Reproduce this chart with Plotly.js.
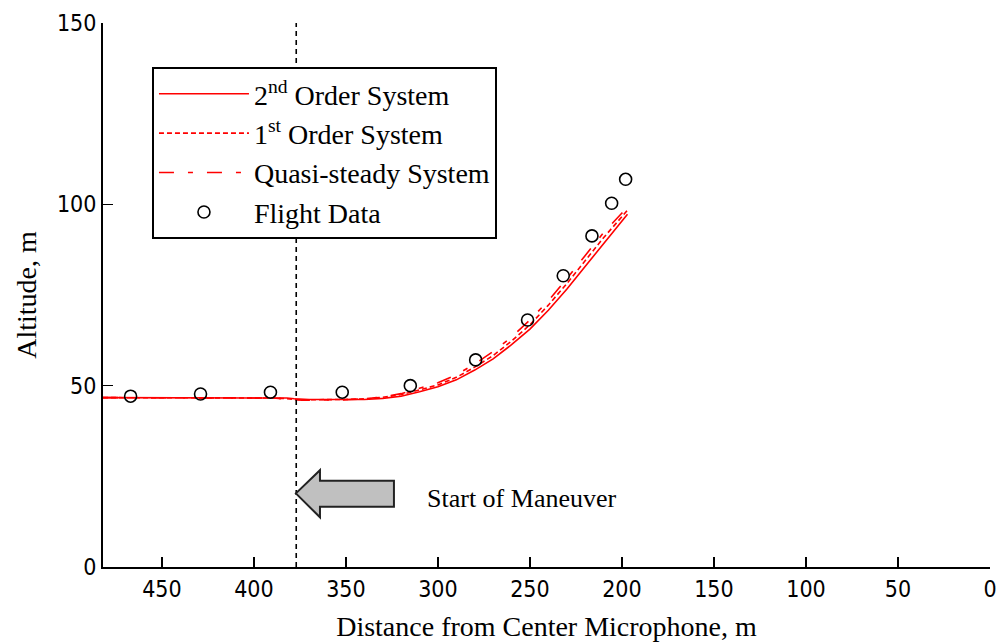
<!DOCTYPE html>
<html>
<head>
<meta charset="utf-8">
<script src="https://cdn.plot.ly/plotly-3.0.1.min.js"></script>
<style>
html,body{margin:0;padding:0;background:#fff;}
#chart{width:1000px;height:642px;}
</style>
</head>
<body>
<div id="chart"></div>
<script>
// Model curves: distance from center microphone (m) and altitude (m)
const modelDistance = [482, 460, 440, 420, 400, 390, 382, 378, 374, 370, 360, 350, 340, 330, 320, 310, 300, 290, 280, 270, 260, 250, 240, 230, 220, 210, 200, 197];
const secondOrder   = [46.7, 46.7, 46.7, 46.7, 46.7, 46.7, 46.6, 46.4, 46.3, 46.2, 46.2, 46.2, 46.2, 46.5, 47.1, 48.3, 49.7, 51.6, 54.3, 57.4, 61.3, 65.6, 70.8, 76.6, 82.9, 89.2, 95.3, 97.3];
const firstOrder    = [46.7, 46.7, 46.7, 46.7, 46.7, 46.6, 46.4, 46.2, 46.1, 46.1, 46.1, 46.2, 46.4, 46.8, 47.5, 48.8, 50.2, 52.3, 55.1, 58.3, 62.3, 66.8, 72.2, 78.1, 84.5, 90.8, 96.6, 98.4];
const quasiSteady   = [46.7, 46.7, 46.7, 46.7, 46.7, 46.6, 46.3, 46.1, 46.0, 46.0, 46.0, 46.1, 46.4, 46.9, 47.8, 49.2, 50.8, 53.0, 56.0, 59.4, 63.4, 68.1, 73.4, 79.5, 86.0, 92.2, 97.6, 99.0];

// Flight data
const flightDistance = [467, 429, 391, 352, 315, 279.5, 251.3, 231.9, 216.3, 205.6, 198];
const flightAltitude = [47.1, 47.7, 48.2, 48.2, 50.0, 57.1, 68.1, 80.3, 91.3, 100.3, 106.9];

// Axis ticks
const xTicks = [450, 400, 350, 300, 250, 200, 150, 100, 50, 0];
const yTicks = [0, 50, 100, 150];

// Maneuver marker
const maneuverStart = 377;
const maneuverLabel = "Start of Maneuver";
const arrowTip = [377.2, 20.3];
const arrowHeadX = 364.1, arrowHeadTop = 26.7, arrowHeadBottom = 13.7;
const arrowTailX = 323.9, arrowBodyTop = 23.8, arrowBodyBottom = 16.6;

const serif = "Liberation Serif, Times New Roman, serif";
const narrow = "Liberation Sans Narrow, DejaVu Sans Condensed, Arial Narrow, sans-serif";

const traces = [
  {x: modelDistance, y: secondOrder, type: 'scatter', mode: 'lines',
   name: '2<sup>nd</sup> Order System', line: {color: '#ff0000', width: 1.6}},
  {x: modelDistance, y: firstOrder, type: 'scatter', mode: 'lines',
   name: '1<sup>st</sup> Order System', line: {color: '#ff0000', width: 1.6, dash: '5px,3px'}},
  {x: modelDistance, y: quasiSteady, type: 'scatter', mode: 'lines',
   name: 'Quasi-steady System', line: {color: '#ff0000', width: 1.6, dash: '15px,14px,5px,14px'}},
  {x: flightDistance, y: flightAltitude, type: 'scatter', mode: 'markers',
   name: 'Flight Data', marker: {symbol: 'circle-open', size: 12, color: '#000', line: {width: 1.6, color: '#000'}}}
];

const arrowPath = 'M' + arrowTip[0] + ',' + arrowTip[1] +
  ' L' + arrowHeadX + ',' + arrowHeadTop +
  ' L' + arrowHeadX + ',' + arrowBodyTop +
  ' L' + arrowTailX + ',' + arrowBodyTop +
  ' L' + arrowTailX + ',' + arrowBodyBottom +
  ' L' + arrowHeadX + ',' + arrowBodyBottom +
  ' L' + arrowHeadX + ',' + arrowHeadBottom + ' Z';

const layout = {
  width: 1000, height: 642,
  margin: {l: 103, r: 10, t: 23, b: 75},
  paper_bgcolor: '#fff', plot_bgcolor: '#fff',
  showlegend: true,
  font: {family: serif, color: '#000'},
  xaxis: {
    range: [482, 0],
    tickvals: xTicks, ticktext: xTicks.map(String),
    ticks: 'inside', ticklen: 10, tickwidth: 1.5, tickcolor: '#000',
    showline: true, linecolor: '#000', linewidth: 2, mirror: false,
    showgrid: false, zeroline: false,
    tickfont: {family: narrow, size: 23, color: '#000'},
    title: {text: 'Distance from Center Microphone, m', font: {family: serif, size: 28, color: '#000'}}
  },
  yaxis: {
    range: [0, 150],
    tickvals: yTicks, ticktext: yTicks.map(String),
    ticks: 'inside', ticklen: 10, tickwidth: 1.5, tickcolor: '#000',
    showline: true, linecolor: '#000', linewidth: 2, mirror: false,
    showgrid: false, zeroline: false,
    tickfont: {family: narrow, size: 23, color: '#000'},
    title: {text: 'Altitude, m', font: {family: serif, size: 28, color: '#000'}}
  },
  legend: {
    x: 0.0552, y: 0.919, xanchor: 'left', yanchor: 'top',
    bgcolor: '#fff', bordercolor: '#000', borderwidth: 2,
    font: {family: serif, size: 28, color: '#000'},
    itemwidth: 90, tracegroupgap: 0
  },
  shapes: [
    {type: 'line', xref: 'x', yref: 'y', x0: maneuverStart, x1: maneuverStart, y0: 0, y1: 150,
     line: {color: '#000', width: 1.6, dash: '5px,4px'}},
    {type: 'path', xref: 'x', yref: 'y', path: arrowPath,
     fillcolor: '#c0c0c0', line: {color: '#222', width: 2}}
  ],
  annotations: [
    {x: 307, y: 19.0, xref: 'x', yref: 'y', xanchor: 'left', yanchor: 'middle', showarrow: false,
     text: maneuverLabel, font: {family: serif, size: 26, color: '#000'}}
  ]
};

Plotly.newPlot('chart', traces, layout, {displayModeBar: false, staticPlot: true});
</script>
</body>
</html>
